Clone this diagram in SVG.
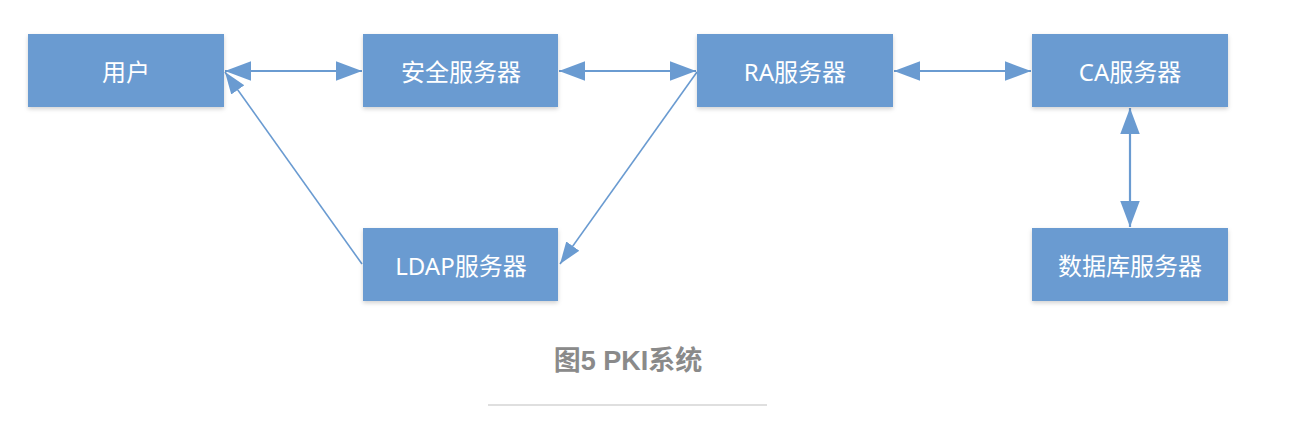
<svg xmlns="http://www.w3.org/2000/svg" width="1300" height="428" viewBox="0 0 1300 428">
<style>
.box{fill:#6a9bd1;filter:url(#sh)}
.lbl{fill:#ffffff;font-family:"Noto Sans","Noto Sans CJK SC",sans-serif;font-size:24px;text-anchor:middle}
.c{stroke:#6a9bd1;fill:none}
.thick{stroke-width:2.2}
.thin{stroke-width:1.6}
.cap{fill:#8a8a8a;font-family:"Liberation Sans","Noto Sans CJK SC",sans-serif;font-size:27px;font-weight:bold;text-anchor:middle}
</style>
<defs>
<filter id="sh" x="-10%" y="-10%" width="120%" height="130%">
<feDropShadow dx="0" dy="2" stdDeviation="2" flood-color="#000" flood-opacity="0.18"/>
</filter>
<marker id="ah" markerUnits="userSpaceOnUse" markerWidth="26" markerHeight="20" viewBox="0 0 24 18" refX="24" refY="9" orient="auto-start-reverse">
<path d="M0,0 L24,9 L0,18 Z" fill="#6a9bd1"/>
</marker>
<marker id="ah2" markerUnits="userSpaceOnUse" markerWidth="22" markerHeight="18" viewBox="0 0 22 16" refX="22" refY="8" orient="auto">
<path d="M0,0 L22,8 L0,16 Z" fill="#6a9bd1"/>
</marker>
</defs>
<g id="connectors">
<line class="c thick" x1="225" y1="71" x2="362" y2="71" marker-start="url(#ah)" marker-end="url(#ah)"/>
<line class="c thick" x1="559" y1="71" x2="696" y2="71" marker-start="url(#ah)" marker-end="url(#ah)"/>
<line class="c thick" x1="894" y1="71" x2="1031" y2="71" marker-start="url(#ah)" marker-end="url(#ah)"/>
<line class="c thick" x1="1130" y1="108" x2="1130" y2="227" marker-start="url(#ah)" marker-end="url(#ah)"/>
<line class="c thin" x1="362" y1="264" x2="225" y2="72" marker-end="url(#ah2)"/>
<line class="c thin" x1="697" y1="72" x2="560" y2="264" marker-end="url(#ah2)"/>
</g>
<g id="node-user"><rect class="box" x="28" y="34" width="196" height="73"/><text class="lbl" x="126" y="81">用户</text></g>
<g id="node-security"><rect class="box" x="363" y="34" width="195" height="73"/><text class="lbl" x="461" y="81">安全服务器</text></g>
<g id="node-ra"><rect class="box" x="697" y="34" width="196" height="73"/><text class="lbl" x="795" y="81">RA服务器</text></g>
<g id="node-ca"><rect class="box" x="1032" y="34" width="196" height="73"/><text class="lbl" x="1130" y="81">CA服务器</text></g>
<g id="node-ldap"><rect class="box" x="363" y="228" width="195" height="73"/><text class="lbl" x="461" y="275">LDAP服务器</text></g>
<g id="node-db"><rect class="box" x="1032" y="228" width="196" height="73"/><text class="lbl" x="1130" y="275">数据库服务器</text></g>
<text class="cap" x="628" y="370">图5 PKI系统</text>
<line x1="488" y1="405" x2="767" y2="405" stroke="#d4d4d4" stroke-width="1.5"/>
</svg>
